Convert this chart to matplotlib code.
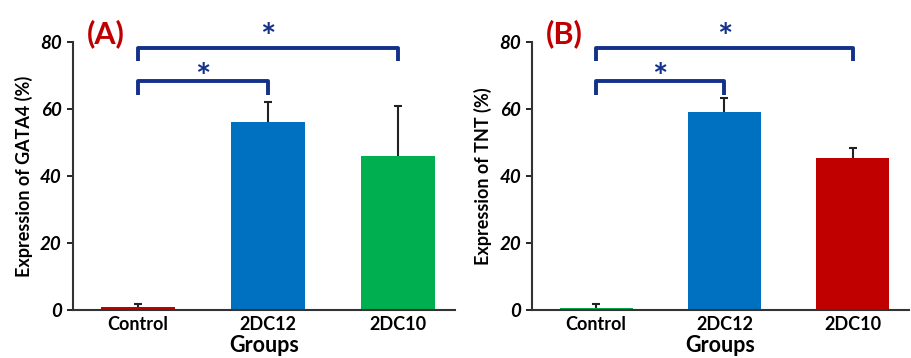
import matplotlib.pyplot as plt

plt.rcParams['font.family'] = ['Lato', 'DejaVu Sans']

groups = ['Control', '2DC12', '2DC10']

gata4 = [0.8, 56, 46]
gata4_err = [1.0, 6, 15]
gata4_colors = ['#C00000', '#0070C0', '#00B050']

tnt = [0.7, 59, 45.5]
tnt_err = [1.0, 4.3, 2.7]
tnt_colors = ['#00B050', '#0070C0', '#C00000']

panels = [('(A)', 'Expression of GATA4 (%)', gata4, gata4_err, gata4_colors),
          ('(B)', 'Expression of TNT (%)', tnt, tnt_err, tnt_colors)]

fig = plt.figure(figsize=(9.11, 3.58), dpi=100)
axes = [fig.add_axes([0.080, 0.134, 0.420, 0.749]),
        fig.add_axes([0.584, 0.134, 0.414, 0.749])]

bracket_color = '#13318A'

for ax, (tag, ylabel, vals, errs, cols) in zip(axes, panels):
    x = range(len(groups))
    # error bars sit behind the bars so only the upper half shows
    ax.errorbar(x, vals, yerr=errs, fmt='none', ecolor='#222222',
                elinewidth=1.5, capsize=3, capthick=1.5, zorder=1)
    ax.bar(x, vals, width=0.57, color=cols, zorder=2)
    ax.set_xlim(-0.5, 2.44)
    ax.set_ylim(0, 80)
    ax.set_yticks([0, 20, 40, 60, 80])
    ax.set_xticks(list(x))
    ax.set_xticklabels(groups, fontsize=13, fontweight='bold')
    for lbl in ax.get_yticklabels():
        lbl.set_fontsize(13.5)
        lbl.set_fontweight('bold')
        lbl.set_fontstyle('italic')
    ax.tick_params(axis='x', length=0, pad=4)
    ax.tick_params(axis='y', length=4, width=1.2, pad=4)
    for s in ['top', 'right']:
        ax.spines[s].set_visible(False)
    for s in ['left', 'bottom']:
        ax.spines[s].set_linewidth(1.5)
        ax.spines[s].set_color('#333333')
    ax.set_ylabel(ylabel, fontsize=13, fontweight='bold', labelpad=5)
    ax.set_xlabel('Groups', fontsize=15.5, fontweight='bold', labelpad=2)

    # significance brackets
    for x2, ylo, yhi, ystar in [(1, 64.2, 68.4, 69.2), (2, 74.3, 78.3, 80.9)]:
        ax.plot([0, 0, x2, x2], [ylo, yhi, yhi, ylo], color=bracket_color, lw=2.8,
                solid_joinstyle='round', solid_capstyle='butt', clip_on=False, zorder=4)
        ax.text(x2 / 2, ystar, '*', ha='center', va='center', fontsize=26,
                fontweight='bold', color=bracket_color, clip_on=False)

    ax.text(-0.39, 82.5, tag, ha='left', va='center', fontsize=22, fontweight='bold',
            color='#C00000', clip_on=False)

fig.savefig('out.png', dpi=100)
